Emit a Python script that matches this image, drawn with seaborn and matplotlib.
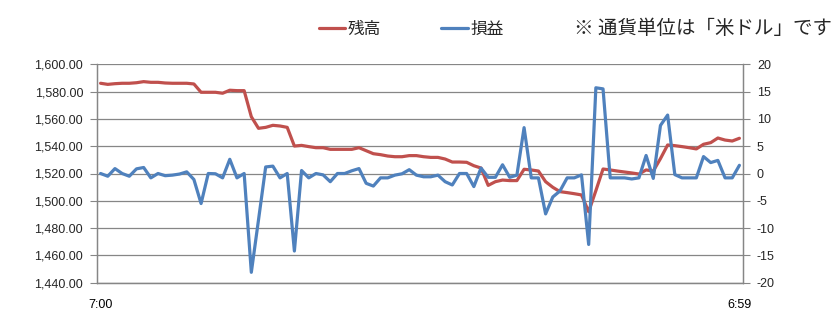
import matplotlib
matplotlib.use("Agg")
import matplotlib.pyplot as plt
import seaborn as sns
import pandas as pd
import numpy as np
from matplotlib.ticker import FixedLocator, FuncFormatter

# ---- data ----
balance = [
    1586.1, 1585.3, 1585.8, 1586.1, 1586.1, 1586.5, 1587.3, 1586.8, 1586.8, 1586.3,
    1586.1, 1586.1, 1586.1, 1585.6, 1579.5, 1579.5, 1579.5, 1578.8, 1581.0, 1580.7,
    1580.7, 1561.6, 1553.1, 1553.8, 1555.3, 1554.8, 1553.8, 1540.1, 1540.6, 1539.7,
    1538.9, 1538.9, 1537.7, 1537.7, 1537.7, 1537.7, 1538.9, 1536.7, 1534.5, 1533.8,
    1532.8, 1532.3, 1532.3, 1533.1, 1533.1, 1532.3, 1531.8, 1531.8, 1530.6, 1528.4,
    1528.4, 1528.2, 1525.7, 1524.0, 1511.3, 1514.0, 1515.2, 1514.8, 1514.8, 1523.1,
    1522.6, 1521.8, 1514.0, 1509.9, 1506.7, 1506.0, 1505.2, 1504.3, 1492.0, 1507.4,
    1523.3, 1522.6, 1521.8, 1521.1, 1520.4, 1519.6, 1522.6, 1521.8, 1530.9, 1540.9,
    1540.4, 1539.7, 1538.9, 1538.0, 1541.4, 1542.6, 1546.0, 1544.5, 1543.8, 1545.8,
]
profit = [
    0.0, -0.5, 0.9, 0.0, -0.5, 0.85, 1.1, -0.8, 0.0, -0.4,
    -0.3, -0.1, 0.3, -1.1, -5.5, 0.0, -0.05, -0.8, 2.6, -0.8,
    0.0, -18.1, -8.5, 1.2, 1.35, -0.8, 0.0, -14.2, 0.55, -0.8,
    0.0, -0.25, -1.5, 0.0, 0.0, 0.5, 0.9, -1.8, -2.3, -0.8,
    -0.8, -0.3, -0.05, 0.7, -0.3, -0.6, -0.6, -0.3, -1.5, -2.1,
    0.0, 0.0, -2.4, 1.0, -0.7, -0.7, 1.6, -0.7, -0.3, 8.4,
    -0.8, -0.8, -7.4, -4.3, -3.2, -0.8, -0.8, -0.25, -13.0, 15.7,
    15.5, -0.8, -0.8, -0.8, -1.0, -0.8, 3.3, -0.9, 8.8, 10.7,
    -0.2, -0.8, -0.8, -0.8, 3.1, 2.0, 2.4, -0.8, -0.8, 1.5,
]
series_names = ["残高", "損益"]
x_labels = ["7:00", "6:59"]
left_ticks = [1440, 1460, 1480, 1500, 1520, 1540, 1560, 1580, 1600]
right_ticks = [-20, -15, -10, -5, 0, 5, 10, 15, 20]
note_text = "※ 通貨単位は「米ドル」です"

# ---- style ----
sns.set_style("white")
plt.rcParams["font.family"] = ["Noto Sans CJK JP", "DejaVu Sans"]
plt.rcParams["axes.unicode_minus"] = False

RED = "#C0504D"
BLUE = "#4F81BD"
GRID = "#868686"

df = pd.DataFrame({"idx": np.arange(len(balance)), "balance": balance, "profit": profit})

fig = plt.figure(figsize=(8.31, 3.14), dpi=100)
ax = fig.add_axes([97 / 831, 1 - 282.7 / 314, (743 - 97) / 831, (282.7 - 64.3) / 314])
ax2 = ax.twinx()

sns.lineplot(data=df, x="idx", y="balance", ax=ax, color=RED, linewidth=2.3,
             solid_joinstyle="round", label=series_names[0], legend=False)
sns.lineplot(data=df, x="idx", y="profit", ax=ax2, color=BLUE, linewidth=2.3,
             solid_joinstyle="round", label=series_names[1], legend=False)

n = len(balance)
ax.set_xlim(-0.5, n - 0.5)
ax.set_ylim(left_ticks[0], left_ticks[-1])
ax2.set_ylim(right_ticks[0], right_ticks[-1])

ax.set_yticks(left_ticks)
ax2.set_yticks(right_ticks)
ax.yaxis.set_major_formatter(FuncFormatter(lambda v, p: f"{v:,.2f}"))
ax2.yaxis.set_major_formatter(FuncFormatter(lambda v, p: f"{int(v)}"))

ax.set_xticks([0, n - 1])
ax.set_xticklabels(x_labels)
ax.xaxis.set_minor_locator(FixedLocator(np.arange(-0.5, n, 1.0)))
ax.tick_params(axis="x", which="major", length=0, pad=12, labelsize=9, colors="black")
ax.tick_params(axis="x", which="minor", length=5, width=0.8, color=GRID, direction="out")
ax.tick_params(axis="y", which="major", length=5, width=0.8, color=GRID, direction="out",
               labelsize=9, pad=5)
ax2.tick_params(axis="y", which="major", length=5, width=0.8, color=GRID, direction="out",
                labelsize=9, pad=5)
for lab in ax.get_xticklabels() + ax.get_yticklabels() + ax2.get_yticklabels():
    lab.set_family(["Liberation Sans", "DejaVu Sans"])

ax.set_xlabel("")
ax.set_ylabel("")
ax2.set_ylabel("")

ax.grid(axis="y", color=GRID, linewidth=0.9)
ax.set_axisbelow(True)
for a in (ax, ax2):
    a.spines["top"].set_visible(False)
    for s in ("left", "right", "bottom"):
        a.spines[s].set_color(GRID)
        a.spines[s].set_linewidth(0.9)

handles = [ax.get_lines()[0], ax2.get_lines()[0]]
fig.legend(handles, series_names, loc="center", bbox_to_anchor=(411 / 831, 1 - 29 / 314),
           ncol=2, frameon=False, fontsize=12, handlelength=1.6, handletextpad=0.15,
           columnspacing=3.6)
fig.text(574 / 831, 1 - 29 / 314, note_text, fontsize=14, ha="left", va="center")

fig.savefig("out.png", dpi=100)
